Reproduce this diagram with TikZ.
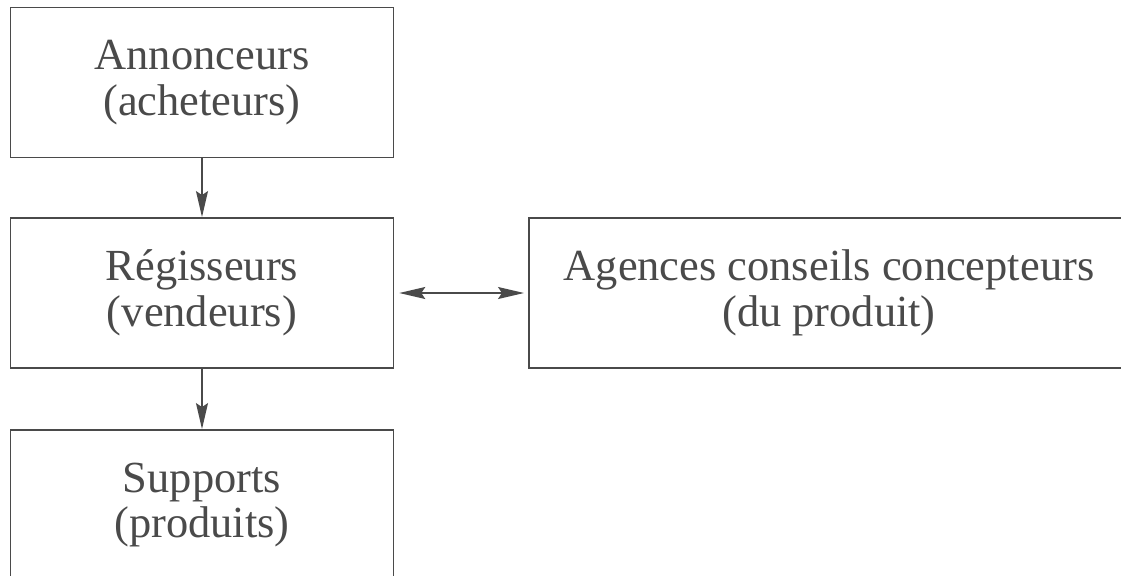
\documentclass[tikz,border=0pt]{standalone}
\usepackage{fontspec}
\setmainfont{Liberation Serif}
\usepackage{xcolor}
\usetikzlibrary{arrows.meta}
\definecolor{gris}{HTML}{4A4A4A}

\begin{document}
\begin{tikzpicture}[x=0.025cm, y=-0.025cm, >={Stealth[length=0.65cm, width=0.3cm, inset=0.1cm]}]
      % Definimos algunos estilos
      \tikzstyle{caja}=[
        draw=gris,
        line width=1.3pt,
        text=gris,
        align=center,
        inner sep=0pt,
        minimum width=9.575cm,
        minimum height=3.75cm,
        font=\fontsize{31.6}{32.5}\selectfont
      ]
      % flechas entre cajas
      \tikzstyle{flecha}=[draw=gris, line width=1pt]

      % marco de la figura
      \useasboundingbox (0,0) rectangle (1121,575);
      \clip (0,0) rectangle (1121,575);
      \fill[white] (0,0) rectangle (1121,575);

      % columna izquierda
      \node[caja] (annonceurs) at (202, 82.5) {Annonceurs\\(acheteurs)};
      \node[caja] (regisseurs) at (202, 293) {Régisseurs\\(vendeurs)};
      \node[caja] (supports) at (202, 505) {Supports\\(produits)};

      % caja de la derecha
      \node[caja, minimum width=15cm] (agences) at (829, 293) {Agences conseils concepteurs\\(du produit)};

      % flechas
      \draw[flecha, ->] (annonceurs) -- (regisseurs);
      \draw[flecha, ->] (regisseurs) -- (supports);
      \draw[flecha, <->, shorten <=0.12cm, shorten >=0.1cm] (regisseurs) -- (agences);
\end{tikzpicture}
\end{document}
